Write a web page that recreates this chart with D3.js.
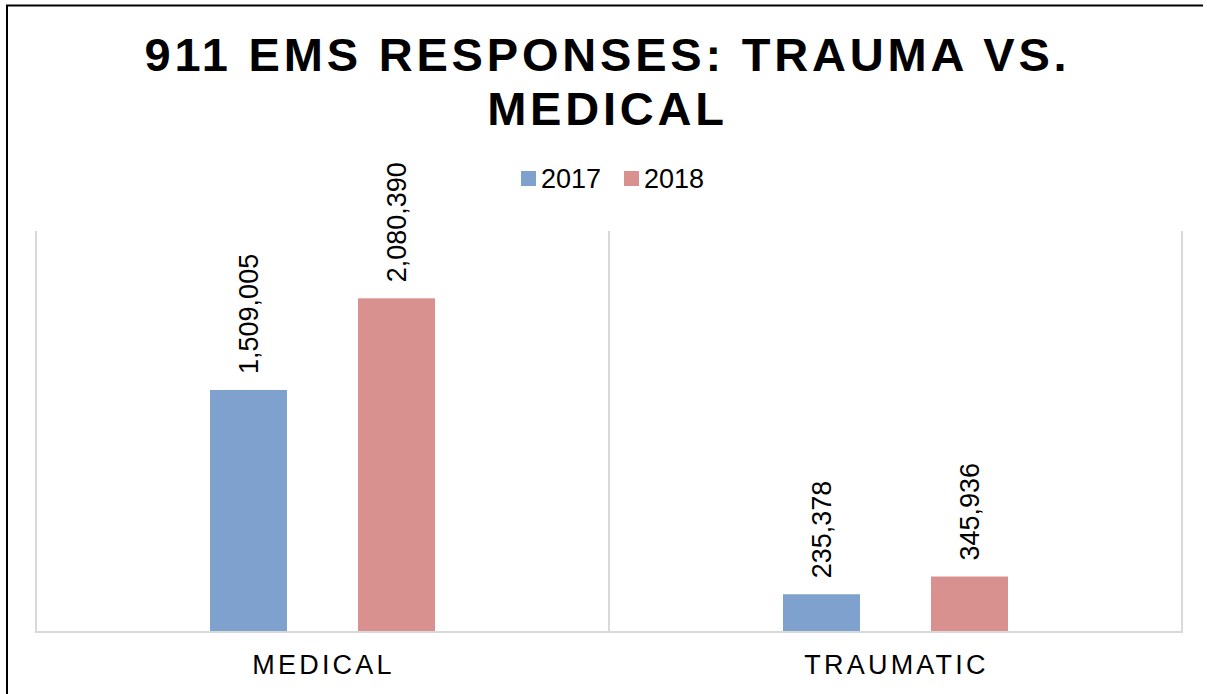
<!DOCTYPE html>
<html>
<head>
<meta charset="utf-8">
<script src="https://cdnjs.cloudflare.com/ajax/libs/d3/7.8.5/d3.min.js"></script>
<style>
  body { margin: 0; background: #fff; }
  text { font-family: Arial, "Liberation Sans", sans-serif; }
</style>
</head>
<body>
<script>
const categories = ['MEDICAL', 'TRAUMATIC'];
const years = ['2017', '2018'];
const values2017 = [1509005, 235378];
const values2018 = [2080390, 345936];
const colors = ['#7ea1cd', '#d8918f'];

const width = 1207;
const height = 694;
const plot = { left: 36, right: 1182, top: 231, bottom: 632 };

const svg = d3.select('body')
  .append('svg')
  .attr('width', width)
  .attr('height', height);

// FRAME (left and top edges are what show)
svg.append('line')
  .attr('x1', 7).attr('x2', 7).attr('y1', 5).attr('y2', height)
  .attr('stroke', '#000').attr('stroke-width', 2);
svg.append('line')
  .attr('x1', 6).attr('x2', 1203).attr('y1', 5.5).attr('y2', 5.5)
  .attr('stroke', '#000').attr('stroke-width', 2);

// TITLE
const titleLines = ['911 EMS RESPONSES: TRAUMA VS.', 'MEDICAL'];
titleLines.forEach((t, i) => {
  svg.append('text')
    .attr('x', width / 2 + 4)
    .attr('y', 71 + i * 54)
    .attr('text-anchor', 'middle')
    .style('font-size', '47px')
    .style('font-weight', 'bold')
    .style('letter-spacing', '3.8px')
    .text(t);
});

// LEGEND
const legendX = [521, 624];
const legend = svg.append('g');
years.forEach((y, i) => {
  legend.append('rect')
    .attr('x', legendX[i]).attr('y', 171)
    .attr('width', 15).attr('height', 15)
    .attr('fill', colors[i]);
  legend.append('text')
    .attr('x', legendX[i] + 20).attr('y', 188)
    .style('font-size', '27px')
    .text(y);
});

// SCALES
const x0 = d3.scaleBand()
  .domain(categories)
  .range([plot.left, plot.right]);

const x1 = d3.scaleBand()
  .domain(years)
  .range([0, 225])
  .paddingInner(0.48);

const yScale = d3.scaleLinear()
  .domain([0, 2500000])
  .range([plot.bottom, plot.top]);

// GRID / CATEGORY SEPARATORS
const grid = svg.append('g');
[...categories.map(c => x0(c)), plot.right].forEach(xv => {
  grid.append('line')
    .attr('x1', xv).attr('x2', xv)
    .attr('y1', plot.top).attr('y2', plot.bottom)
    .attr('stroke', '#d9d9d9').attr('stroke-width', 2);
});
grid.append('line')
  .attr('x1', plot.left - 1).attr('x2', plot.right + 1)
  .attr('y1', plot.bottom).attr('y2', plot.bottom)
  .attr('stroke', '#d9d9d9').attr('stroke-width', 2);

// BARS
const rows = categories.map((c, i) => ({
  cat: c,
  vals: [values2017[i], values2018[i]]
}));

const groups = svg.selectAll('.group')
  .data(rows)
  .enter()
  .append('g')
  .attr('class', 'group')
  .attr('transform', d => `translate(${x0(d.cat) + (x0.bandwidth() - 225) / 2},0)`);

groups.selectAll('rect')
  .data(d => d.vals.map((v, i) => ({ year: years[i], v, i })))
  .enter()
  .append('rect')
  .attr('x', d => x1(d.year))
  .attr('width', x1.bandwidth())
  .attr('y', d => yScale(d.v))
  .attr('height', d => plot.bottom - 1 - yScale(d.v))
  .attr('fill', d => colors[d.i]);

// DATA LABELS
groups.selectAll('.label')
  .data(d => d.vals.map((v, i) => ({ year: years[i], v, i })))
  .enter()
  .append('text')
  .attr('class', 'label')
  .attr('transform', d => `translate(${x1(d.year) + x1.bandwidth() / 2},${yScale(d.v) - 16}) rotate(-90)`)
  .attr('dy', '0.35em')
  .style('font-size', '27px')
  .text(d => d3.format(',')(d.v));

// CATEGORY AXIS LABELS
svg.selectAll('.cat')
  .data(categories)
  .enter()
  .append('text')
  .attr('class', 'cat')
  .attr('x', d => x0(d) + x0.bandwidth() / 2 + 1)
  .attr('y', 674)
  .attr('text-anchor', 'middle')
  .style('font-size', '27px')
  .style('letter-spacing', '3.2px')
  .text(d => d);
</script>
</body>
</html>
